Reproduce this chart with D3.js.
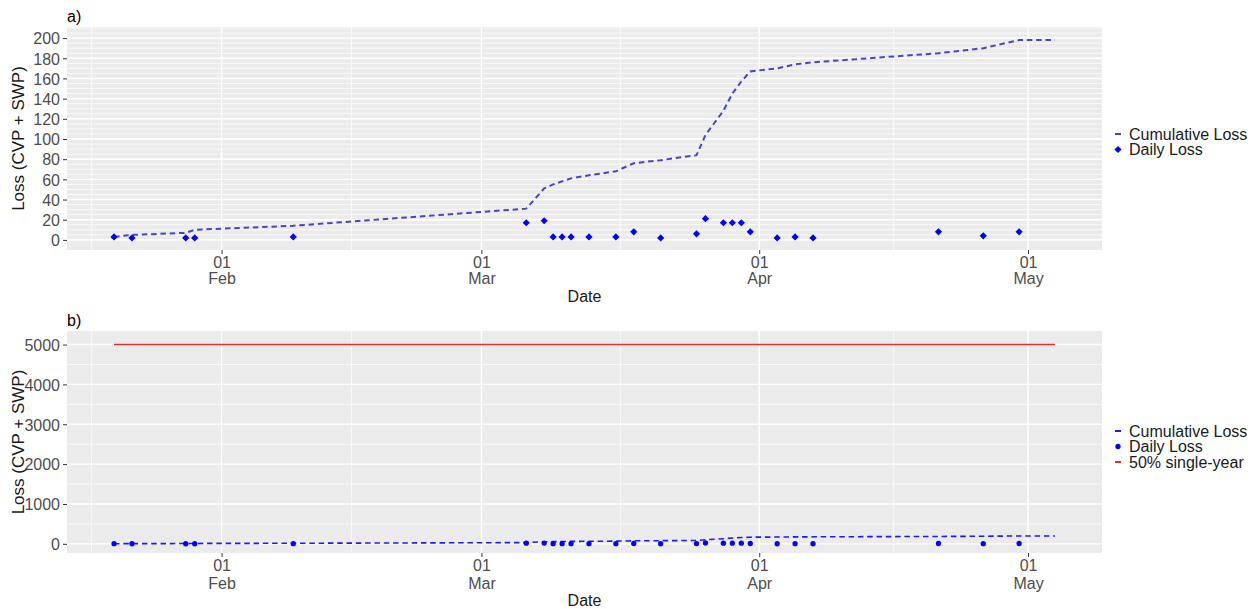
<!DOCTYPE html>
<html>
<head>
<meta charset="utf-8">
<script src="https://cdn.jsdelivr.net/npm/d3@7"></script>
<style>
  body { margin: 0; background: #fff; }
  svg { font-family: "Liberation Sans", Arial, sans-serif; }
  .tick text { fill: #4d4d4d; font-size: 16px; }
</style>
</head>
<body>
<svg id="chart"></svg>
<script>
'use strict';

// daily loss points (date, loss)
var dailyDates = ['2016-01-20', '2016-01-22', '2016-01-28', '2016-01-29', '2016-02-09',
  '2016-03-06', '2016-03-08', '2016-03-09', '2016-03-10', '2016-03-11', '2016-03-13',
  '2016-03-16', '2016-03-18', '2016-03-21', '2016-03-25', '2016-03-26', '2016-03-28',
  '2016-03-29', '2016-03-30', '2016-03-31', '2016-04-03', '2016-04-05', '2016-04-07',
  '2016-04-21', '2016-04-26', '2016-04-30'];
var dailyLoss = [3, 2, 2, 2, 3,
  17, 19, 3, 3, 3, 3,
  3, 8, 2, 6, 21, 17,
  17, 17, 8, 2, 3, 2,
  8, 4, 8];

// cumulative loss line vertices
var cumDates = ['2016-01-20', '2016-01-22', '2016-01-28', '2016-01-29', '2016-02-09',
  '2016-03-06', '2016-03-08', '2016-03-09', '2016-03-10', '2016-03-11', '2016-03-13',
  '2016-03-16', '2016-03-18', '2016-03-21', '2016-03-25', '2016-03-26', '2016-03-28',
  '2016-03-29', '2016-03-30', '2016-03-31', '2016-04-03', '2016-04-05', '2016-04-07',
  '2016-04-21', '2016-04-26', '2016-04-30', '2016-05-04'];
var cumLoss = [3, 5, 7, 10, 14,
  31, 51, 55, 58, 61, 64,
  68, 76, 79, 84, 104, 128,
  145, 157, 167, 170, 174, 176,
  185, 190, 198, 198];

// 50% single-year limit
var limitValue = 5000;

var topTicks = d3.range(0, 201, 20);
var bottomTicks = d3.range(0, 5001, 1000);
var seriesLabels = ['Cumulative Loss', 'Daily Loss', '50% single-year'];

var parse = d3.timeParse('%Y-%m-%d');
var daily = dailyDates.map(function(d, i) { return { date: parse(d), value: dailyLoss[i] }; });
var cum = cumDates.map(function(d, i) { return { date: parse(d), value: cumLoss[i] }; });
var dateExtent = d3.extent(cum, function(d) { return d.date; });
var limit = dateExtent.map(function(d) { return { date: d, value: limitValue }; });

var canvasWidth = 1258,
  canvasHeight = 609,
  left = 67,
  right = 1102;

var svg = d3.select('#chart')
  .attr('width', canvasWidth)
  .attr('height', canvasHeight);

// x scale with ggplot style 5% expansion
var span = dateExtent[1] - dateExtent[0];
var xScale = d3.scaleTime()
  .domain([new Date(+dateExtent[0] - span * 0.05), new Date(+dateExtent[1] + span * 0.05)])
  .range([left, right]);

var monthTicks = d3.timeMonth.range(xScale.domain()[0], xScale.domain()[1]);
var step = monthTicks[1] - monthTicks[0];
var minorX = [];
var withPrev = [new Date(+monthTicks[0] - step)].concat(monthTicks);
for (var i = 1; i < withPrev.length; i++) {
  minorX.push(new Date((+withPrev[i - 1] + +withPrev[i]) / 2));
}
minorX.push(new Date(+monthTicks[monthTicks.length - 1] + step / 2));
minorX = minorX.filter(function(d) { return d >= xScale.domain()[0] && d <= xScale.domain()[1]; });

function drawPanel(opts) {
  var g = svg.append('g');
  var yScale = d3.scaleLinear().domain(opts.yDomain).range([opts.bottom, opts.top]);

  g.append('rect')
    .attr('x', left).attr('y', opts.top)
    .attr('width', right - left).attr('height', opts.bottom - opts.top)
    .attr('fill', '#ebebeb');

  // grid
  g.selectAll('.hminor').data(opts.minorY).enter().append('line')
    .attr('x1', left).attr('x2', right)
    .attr('y1', function(d) { return yScale(d); }).attr('y2', function(d) { return yScale(d); })
    .attr('stroke', '#fff').attr('stroke-width', 0.7);
  g.selectAll('.vminor').data(minorX).enter().append('line')
    .attr('y1', opts.top).attr('y2', opts.bottom)
    .attr('x1', function(d) { return xScale(d); }).attr('x2', function(d) { return xScale(d); })
    .attr('stroke', '#fff').attr('stroke-width', 0.7);
  g.selectAll('.hmajor').data(opts.ticks).enter().append('line')
    .attr('x1', left).attr('x2', right)
    .attr('y1', function(d) { return yScale(d); }).attr('y2', function(d) { return yScale(d); })
    .attr('stroke', '#fff').attr('stroke-width', 1.4);
  g.selectAll('.vmajor').data(monthTicks).enter().append('line')
    .attr('y1', opts.top).attr('y2', opts.bottom)
    .attr('x1', function(d) { return xScale(d); }).attr('x2', function(d) { return xScale(d); })
    .attr('stroke', '#fff').attr('stroke-width', 1.4);

  // axes
  var yAxis = g.append('g')
    .attr('transform', 'translate(' + left + ',0)')
    .call(d3.axisLeft(yScale).tickValues(opts.ticks).tickFormat(d3.format('d')).tickSize(4).tickPadding(3));
  yAxis.select('.domain').remove();
  yAxis.selectAll('.tick line').attr('stroke', '#333');
  yAxis.selectAll('.tick text').attr('dy', '0.36em');

  var xAxis = g.append('g')
    .attr('transform', 'translate(0,' + opts.bottom + ')')
    .call(d3.axisBottom(xScale).tickValues(monthTicks).tickSize(4).tickFormat(''));
  xAxis.select('.domain').remove();
  xAxis.selectAll('.tick line').attr('stroke', '#333');
  xAxis.selectAll('.tick').append('text')
    .attr('text-anchor', 'middle')
    .attr('y', opts.dayY)
    .text(d3.timeFormat('%d'));
  xAxis.selectAll('.tick').append('text')
    .attr('text-anchor', 'middle')
    .attr('y', opts.monthY)
    .text(d3.timeFormat('%b'));

  svg.append('text')
    .attr('x', (left + right) / 2)
    .attr('y', opts.dateY)
    .attr('text-anchor', 'middle')
    .style('font-size', '16px').style('fill', '#1a1a1a')
    .text('Date');

  svg.append('text')
    .attr('transform', 'translate(24,' + (opts.top + opts.bottom) / 2 + ') rotate(-90)')
    .attr('text-anchor', 'middle')
    .style('font-size', '17px').style('fill', '#1a1a1a')
    .text('Loss (CVP + SWP)');

  svg.append('text')
    .attr('x', left)
    .attr('y', opts.top - 5)
    .style('font-size', '16px').style('fill', '#000')
    .text(opts.tag);

  var line = d3.line()
    .x(function(d) { return xScale(d.date); })
    .y(function(d) { return yScale(d.value); });

  if (opts.showLimit) {
    g.append('path').datum(limit)
      .attr('d', line)
      .attr('fill', 'none')
      .attr('stroke', '#e0302c')
      .attr('stroke-width', 1.5);
  }

  g.append('path').datum(cum)
    .attr('d', line)
    .attr('fill', 'none')
    .attr('stroke', opts.lineColor)
    .attr('stroke-width', opts.lineWidth)
    .attr('stroke-dasharray', '5.5,3.8');

  g.selectAll('.pt').data(daily).enter().append('path')
    .attr('d', d3.symbol().type(opts.pointType).size(opts.pointSize))
    .attr('transform', function(d) {
      return 'translate(' + xScale(d.date) + ',' + yScale(d.value) + ')' + (opts.rotate ? ' rotate(45)' : '');
    })
    .attr('fill', '#0000ff');

  // legend
  var lg = svg.append('g');
  var items = opts.showLimit ? seriesLabels : seriesLabels.slice(0, 2);
  items.forEach(function(label, i) {
    var y = opts.legendY + i * opts.legendStep;
    if (i === 0) {
      lg.append('line').attr('x1', 1115).attr('x2', 1121).attr('y1', y).attr('y2', y)
        .attr('stroke', opts.lineColor).attr('stroke-width', 2);
    } else if (i === 1) {
      lg.append('path')
        .attr('d', d3.symbol().type(opts.pointType).size(opts.pointSize))
        .attr('transform', 'translate(1118,' + y + ')' + (opts.rotate ? ' rotate(45)' : ''))
        .attr('fill', '#0000ff');
    } else {
      lg.append('line').attr('x1', 1115).attr('x2', 1121).attr('y1', y).attr('y2', y)
        .attr('stroke', '#e0302c').attr('stroke-width', 2);
    }
    lg.append('text')
      .attr('x', 1129).attr('y', y).attr('dy', '0.35em')
      .style('font-size', '16px').style('fill', '#1a1a1a')
      .text(label);
  });
}

// a) zoomed panel
drawPanel({
  tag: 'a)',
  top: 27, bottom: 250,
  yDomain: [-10, 211],
  ticks: topTicks,
  minorY: d3.range(0, 211, 5),
  dayY: 18, monthY: 34, dateY: 302,
  lineColor: '#4646c4', lineWidth: 2,
  pointType: d3.symbolSquare, pointSize: 26, rotate: true,
  showLimit: false,
  legendY: 134, legendStep: 15.5
});

// b) panel with the limit line
drawPanel({
  tag: 'b)',
  top: 331, bottom: 553,
  yDomain: [-230, 5340],
  ticks: bottomTicks,
  minorY: d3.range(500, 5340, 1000),
  dayY: 18, monthY: 36, dateY: 606,
  lineColor: '#1a1aff', lineWidth: 1.6,
  pointType: d3.symbolCircle, pointSize: 22, rotate: false,
  showLimit: true,
  legendY: 431, legendStep: 15.5
});
</script>
</body>
</html>
